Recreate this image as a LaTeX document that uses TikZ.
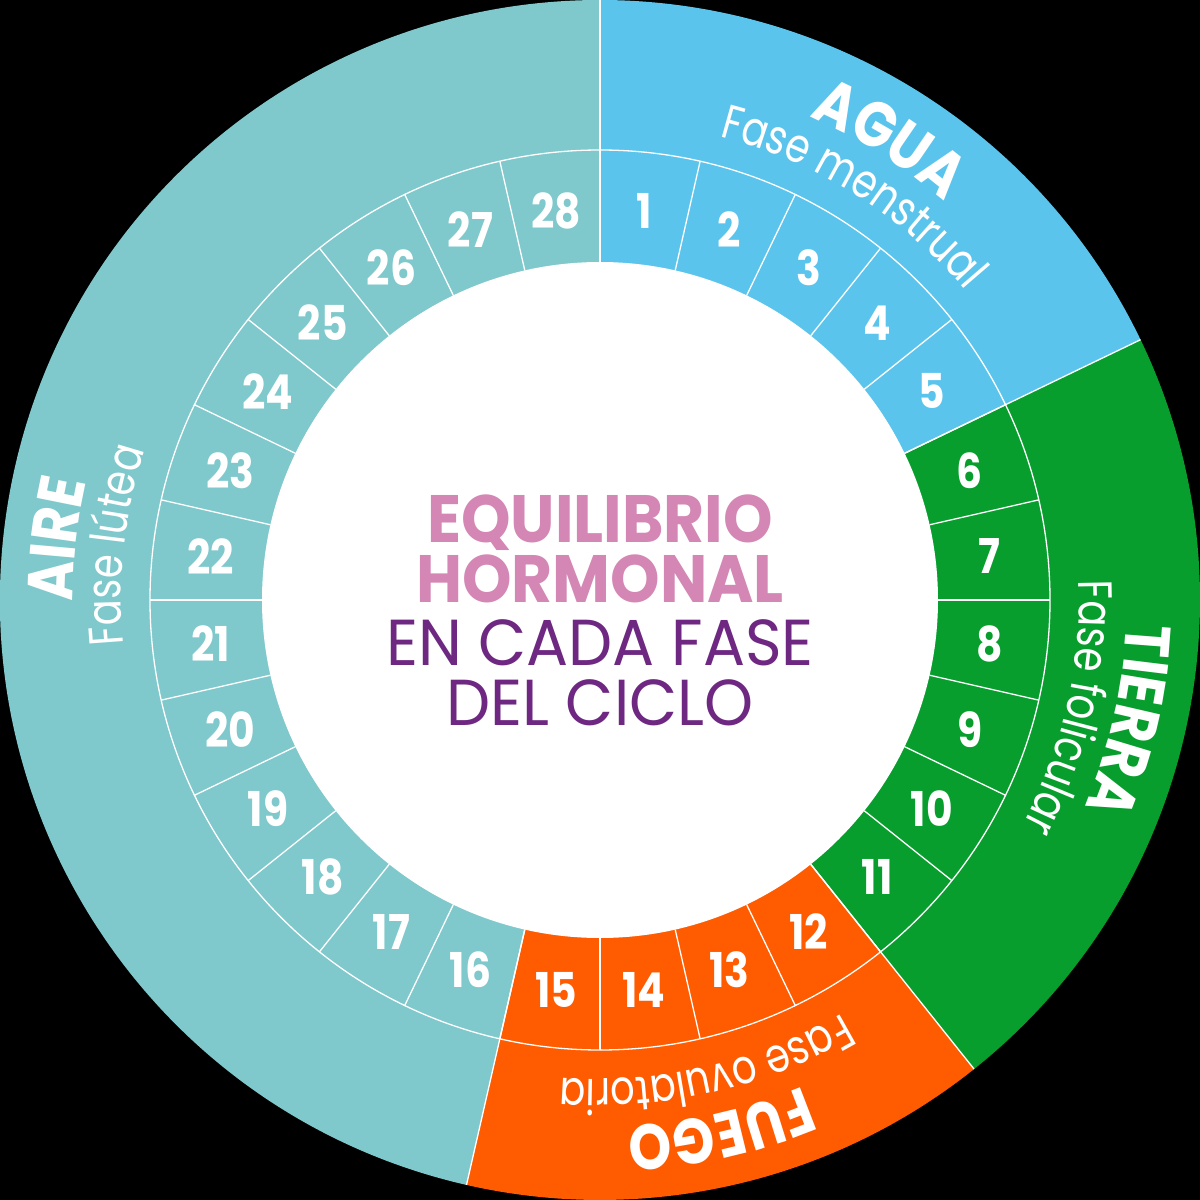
\documentclass[tikz,border=0pt]{standalone}
\usepackage{fontspec}
\setmainfont{Poppins}
\newfontfamily\boldf{Poppins Bold}[FakeStretch=0.85]
\newfontfamily\cboldf{Poppins Bold}[FakeStretch=0.94]
\newfontfamily\lightf{Poppins}[FakeStretch=0.8]
\newfontfamily\regf{Poppins}[FakeStretch=0.96]
\usetikzlibrary{decorations.text}
\definecolor{agua}{RGB}{91,196,236}
\definecolor{tierra}{RGB}{8,158,45}
\definecolor{fuego}{RGB}{255,91,0}
\definecolor{aire}{RGB}{127,200,204}
\definecolor{rosa}{RGB}{212,134,180}
\definecolor{morado}{RGB}{110,40,130}
\newcommand\titlef{\boldf\fontsize{64}{64}\selectfont}
\newcommand\subf{\lightf\fontsize{48}{48}\selectfont}
\begin{document}
\begin{tikzpicture}[x=1pt,y=1pt,
  sep/.style={white, line width=1.3pt},
  daynum/.style={text=white, font=\boldf\fontsize{48}{48}\selectfont, inner sep=0pt},
  ctitle/.style={text=rosa, font=\cboldf\fontsize{67}{67}\selectfont, anchor=base, inner sep=0pt},
  csub/.style={text=morado, font=\regf\fontsize{65}{65}\selectfont, anchor=base, inner sep=0pt},
  arctext/.style={decorate, decoration={text along path, text align=center, text color=white, text={#1}}}
]
\useasboundingbox (-600,-600) rectangle (600,600);
\fill[black] (-600,-600) rectangle (600,600);
\def\seg{12.857142857}
% phase sectors
\fill[agua] (0,0) -- (90:600) arc[start angle=90, end angle=25.7142857, radius=600] -- cycle;
\fill[tierra] (0,0) -- (25.7142857:600) arc[start angle=25.7142857, end angle=-51.4285714, radius=600] -- cycle;
\fill[fuego] (0,0) -- (-51.4285714:600) arc[start angle=-51.4285714, end angle=-102.857143, radius=600] -- cycle;
\fill[aire] (0,0) -- (-102.857143:600) arc[start angle=-102.857143, end angle=-270, radius=600] -- cycle;
% centre
\fill[white] (0,0) circle[radius=338];
\draw[sep] (0,0) circle[radius=450];
\foreach \i in {0,...,27} \draw[sep] ({90-\i*\seg}:338) -- ({90-\i*\seg}:450);
\foreach \a in {90,25.7142857,-51.4285714,-102.857143} \draw[sep] (\a:338) -- (\a:600);
% day numbers
\foreach \i in {1,...,28} \node[daynum] (d\i) at ({90-(\i-0.5)*\seg}:392) {\i};
% titles along arcs
\path[arctext={|\titlef|AGUA}] (97.857:527) arc[start angle=97.857, end angle=17.857, radius=527];
\path[arctext={|\subf|Fase menstrual}] (97.857:479) arc[start angle=97.857, end angle=17.857, radius=479];
\path[arctext={|\titlef|TIERRA}] (27.14:527) arc[start angle=27.14, end angle=-52.86, radius=527];
\path[arctext={|\subf|Fase folicular}] (27.14:479) arc[start angle=27.14, end angle=-52.86, radius=479];
\path[arctext={|\titlef|FUEGO}] (-37.14:527) arc[start angle=-37.14, end angle=-117.14, radius=527];
\path[arctext={|\subf|Fase ovulatoria}] (-37.14:479) arc[start angle=-37.14, end angle=-117.14, radius=479];
\path[arctext={|\titlef|AIRE}] (213.57:527) arc[start angle=213.57, end angle=133.57, radius=527];
\path[arctext={|\subf|Fase lútea}] (213.57:479) arc[start angle=213.57, end angle=133.57, radius=479];
% centre text
\node[ctitle] (t1) at (0,58) {EQUILIBRIO};
\node[ctitle] (t2) at (0,-2) {HORMONAL};
\node[csub] (t3) at (0,-65) {EN CADA FASE};
\node[csub] (t4) at (0,-125) {DEL CICLO};
\end{tikzpicture}
\end{document}
